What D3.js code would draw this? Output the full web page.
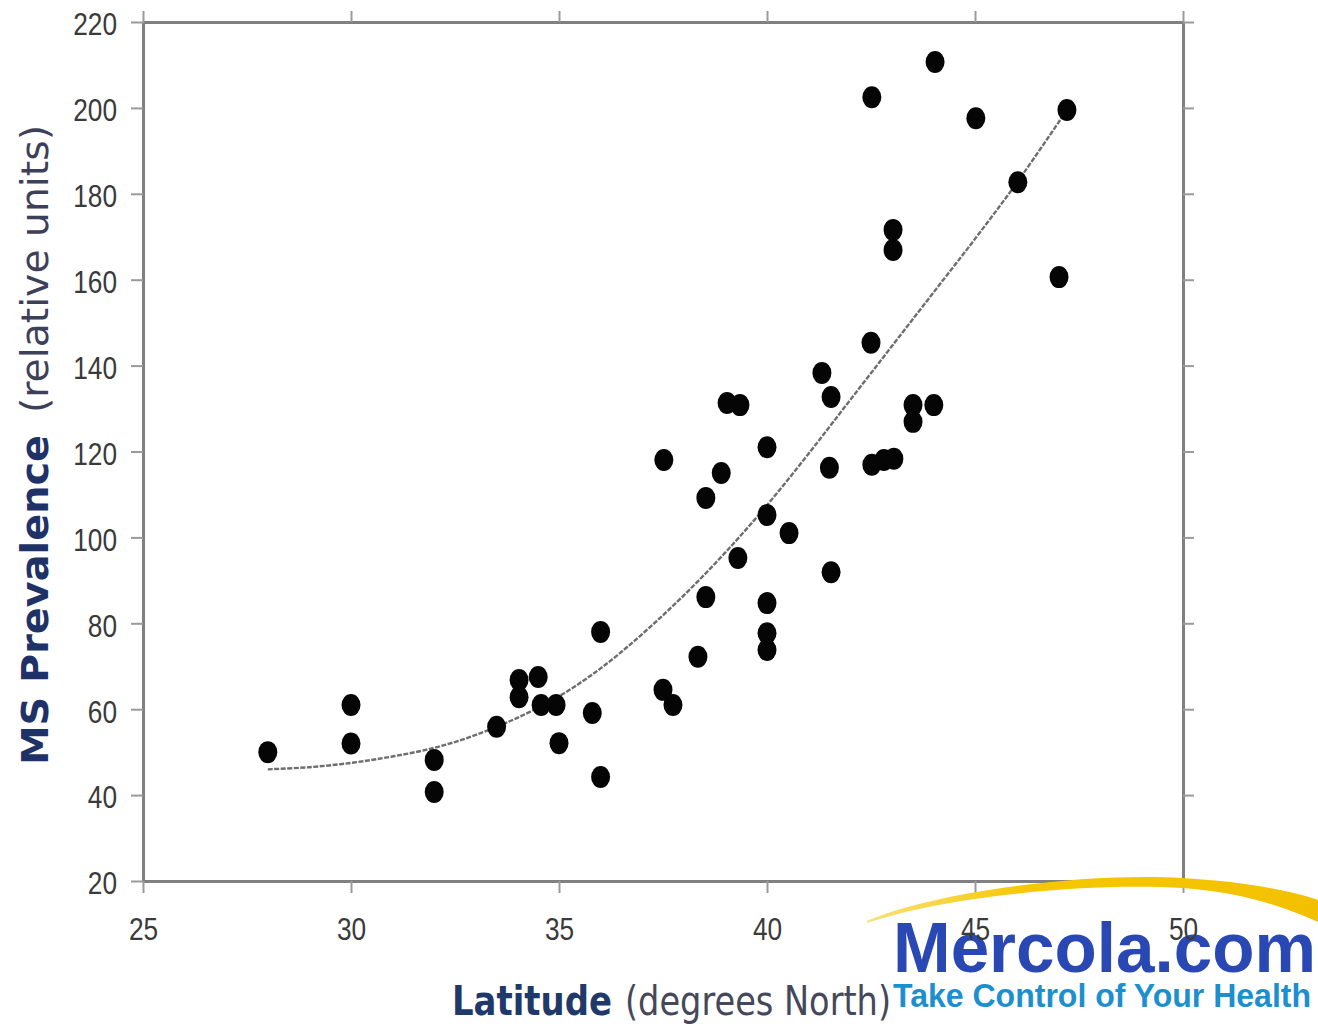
<!DOCTYPE html>
<html>
<head>
<meta charset="utf-8">
<script src="https://cdn.jsdelivr.net/npm/d3@7"></script>
<style>
    html, body { margin: 0; padding: 0; background: #fff; }
    svg { display: block; }
    .tick-label { font-family: "Liberation Sans", Arial, sans-serif; font-size: 32px; fill: #3a3a3a; }
</style>
</head>
<body>
<svg id="chart" width="1318" height="1029"></svg>
<script>

// latitude (degrees North) of each observation
var latitude = [28, 30, 30, 32, 32, 33.5, 34.04, 34.04, 34.5, 34.57, 34.93, 35, 35.8, 36, 36,
    37.5, 37.74, 38.34, 38.53, 38.53, 37.52, 38.9, 39.04, 39.35, 39.3, 40, 40, 40, 40, 40,
    40.53, 41.32, 41.54, 41.5, 41.54, 42.52, 42.5, 42.52, 42.81, 43.05, 43.03, 43.03, 43.51, 43.51,
    44.01, 44.04, 45.02, 46.03, 47.02, 47.21]

// MS prevalence (relative units), same order
var prevalence = [50, 61, 52, 48.2, 40.7, 55.9, 66.8, 62.8, 67.5, 61, 61, 52.1, 59.1, 78, 44.2,
    64.5, 61, 72.2, 86.1, 109.2, 118, 115, 131.3, 130.8, 95.2, 121, 105.2, 84.7, 77.7, 73.8,
    101, 138.3, 132.7, 116.2, 91.9, 202.5, 145.3, 116.9, 118, 118.3, 171.6, 166.9, 130.8, 126.9,
    130.8, 210.7, 197.6, 182.7, 160.6, 199.5]

// fitted trend line
var fitLatitude = [28, 29, 30, 31, 32, 33, 34, 35, 36, 37, 38, 39, 40, 41, 42, 43, 44, 45, 46, 47.21]
var fitPrevalence = [46, 46.5, 47.5, 49, 51, 54, 58, 63, 69.5, 77.5, 86.5, 96.5, 107.5, 119.5, 132, 144.5, 157, 169.5, 182.5, 199.5]

var xTicks = [25, 30, 35, 40, 45, 50]
var yTicks = [20, 40, 60, 80, 100, 120, 140, 160, 180, 200, 220]

var svg = d3.select('#chart')

var xScale = d3.scaleLinear().domain([25, 50]).range([143, 1183])
var yScale = d3.scaleLinear().domain([20, 220]).range([881, 22])

// logo text sits under the axis labels
var logo = svg.append('g').attr('id', 'logo')
logo.append('text')
    .attr('x', 893).attr('y', 972)
    .attr('textLength', 423).attr('lengthAdjust', 'spacingAndGlyphs')
    .attr('font-family', 'Liberation Sans, Arial, sans-serif')
    .attr('font-weight', 'bold').attr('font-size', 70)
    .attr('fill', '#2a48b4')
    .text('Mercola.com')
logo.append('text')
    .attr('x', 893).attr('y', 1007)
    .attr('textLength', 418).attr('lengthAdjust', 'spacingAndGlyphs')
    .attr('font-family', 'Liberation Sans, Arial, sans-serif')
    .attr('font-weight', 'bold').attr('font-size', 34)
    .attr('fill', '#1c8fcf')
    .text('Take Control of Your Health')

function styleAxis(g, showLabels) {
    g.select('.domain').attr('stroke', '#808080').attr('stroke-width', 3)
    g.selectAll('.tick line').attr('stroke', '#9a9a9a').attr('stroke-width', 2)
    g.selectAll('.tick text')
        .attr('class', 'tick-label')
        .attr('font-family', null).attr('font-size', null).attr('fill', null)
        .attr('textLength', function (d) { return String(d).length * 14.6 })
        .attr('lengthAdjust', 'spacingAndGlyphs')
    if (!showLabels) g.selectAll('.tick text').remove()
    g.attr('font-family', null).attr('font-size', null)
}

var frame = svg.append('g').attr('id', 'frame')

frame.append('g')
    .attr('transform', 'translate(0,' + yScale(220) + ')')
    .call(d3.axisTop(xScale).tickValues(xTicks).tickSize(11).tickSizeOuter(0))
    .call(styleAxis, false)

frame.append('g')
    .attr('transform', 'translate(' + xScale(50) + ',0)')
    .call(d3.axisRight(yScale).tickValues(yTicks).tickSize(11).tickSizeOuter(0))
    .call(styleAxis, false)

frame.append('g')
    .attr('id', 'y-axis')
    .attr('transform', 'translate(' + xScale(25) + ',0)')
    .call(d3.axisLeft(yScale).tickValues(yTicks).tickSize(12).tickPadding(14).tickSizeOuter(0))
    .call(styleAxis, true)
    .selectAll('.tick text').attr('dy', '0.4em')

var xAxis = frame.append('g')
    .attr('id', 'x-axis')
    .attr('transform', 'translate(0,' + yScale(20) + ')')
    .call(d3.axisBottom(xScale).tickValues(xTicks).tickSize(12).tickPadding(14).tickSizeOuter(0))
    .call(styleAxis, true)
xAxis.selectAll('.tick text').attr('dy', null).attr('y', 59)

// trend line
var line = d3.line()
    .x(function (d) { return xScale(d[0]) })
    .y(function (d) { return yScale(d[1]) })
    .curve(d3.curveCatmullRom)

svg.append('path')
    .datum(fitLatitude.map(function (x, i) { return [x, fitPrevalence[i]] }))
    .attr('d', line)
    .attr('fill', 'none')
    .attr('stroke', '#6e6e6e')
    .attr('stroke-width', 2.4)
    .attr('stroke-dasharray', '5,1.5')

// observations
svg.append('g')
    .attr('id', 'points')
    .selectAll('ellipse')
    .data(latitude.map(function (x, i) { return [x, prevalence[i]] }))
    .enter()
    .append('ellipse')
    .attr('cx', function (d) { return xScale(d[0]) })
    .attr('cy', function (d) { return yScale(d[1]) })
    .attr('rx', 9.5)
    .attr('ry', 11)
    .attr('fill', '#050505')

// axis titles
var yTitle = svg.append('g').attr('transform', 'translate(48,765) rotate(-90)')
yTitle.append('text')
    .attr('x', 0).attr('y', 0)
    .attr('textLength', 330).attr('lengthAdjust', 'spacingAndGlyphs')
    .attr('font-family', 'DejaVu Sans, sans-serif').attr('font-weight', 'bold').attr('font-size', 37)
    .attr('fill', '#1f3268')
    .text('MS Prevalence')
yTitle.append('text')
    .attr('x', 352).attr('y', 0)
    .attr('textLength', 288).attr('lengthAdjust', 'spacingAndGlyphs')
    .attr('font-family', 'DejaVu Sans, sans-serif').attr('font-size', 37)
    .attr('fill', '#3d4058')
    .text('(relative units)')

svg.append('text')
    .attr('x', 452).attr('y', 1015)
    .attr('textLength', 160).attr('lengthAdjust', 'spacingAndGlyphs')
    .attr('font-family', 'DejaVu Sans, sans-serif').attr('font-weight', 'bold').attr('font-size', 40)
    .attr('fill', '#1f3a6a')
    .text('Latitude')
svg.append('text')
    .attr('x', 625).attr('y', 1015)
    .attr('textLength', 266).attr('lengthAdjust', 'spacingAndGlyphs')
    .attr('font-family', 'DejaVu Sans, sans-serif').attr('font-size', 40)
    .attr('fill', '#45475a')
    .text('(degrees North)')

// gold swoosh of the logo, over the frame
var grad = svg.append('defs').append('linearGradient')
    .attr('id', 'swoosh').attr('x1', '0').attr('x2', '1').attr('y1', '0').attr('y2', '0')
grad.append('stop').attr('offset', '0').attr('stop-color', '#f8e27a')
grad.append('stop').attr('offset', '0.35').attr('stop-color', '#f5c800')
grad.append('stop').attr('offset', '1').attr('stop-color', '#f2c000')

svg.append('path')
    .attr('d', 'M867,921 C930,893 1080,872 1183,878 C1250,882 1295,892 1318,900 L1318,922 C1290,910 1250,893 1183,888 C1080,882 940,898 867,923 Z')
    .attr('fill', 'url(#swoosh)')

</script>
</body>
</html>
